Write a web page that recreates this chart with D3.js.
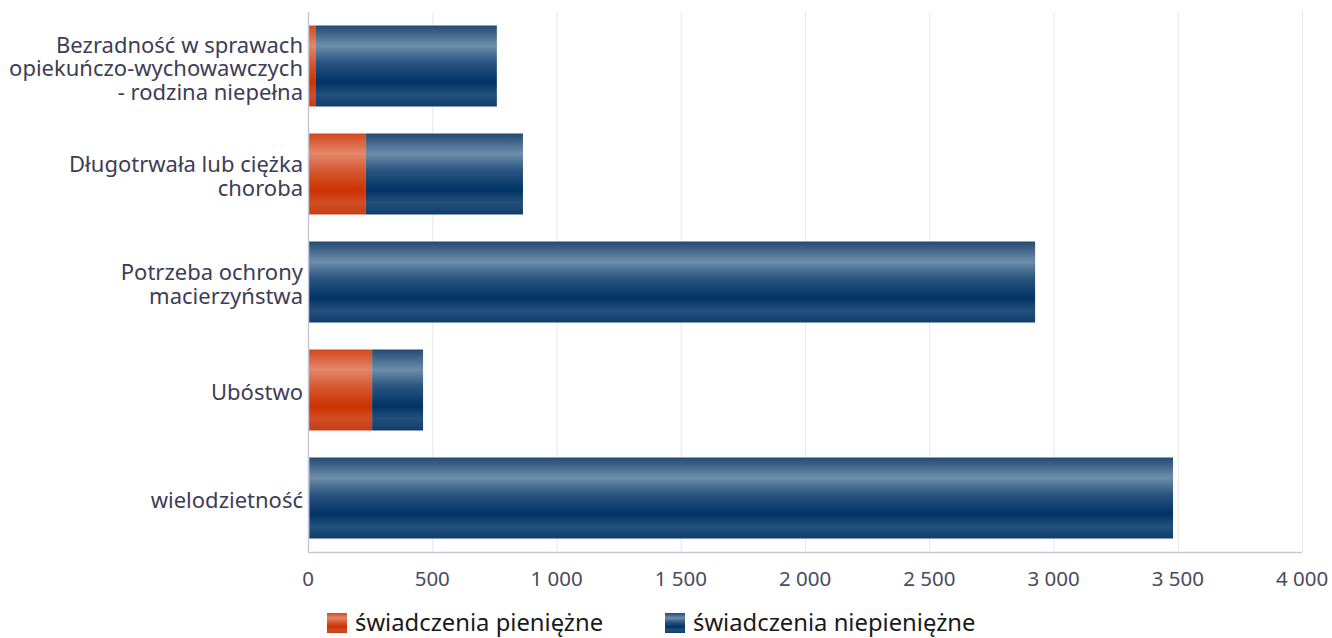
<!DOCTYPE html>
<html><head><meta charset="utf-8">
<script src="https://cdn.jsdelivr.net/npm/d3@7"></script>
<style>body{margin:0;background:#fff;}svg{display:block;font-family:"Noto Sans","Open Sans",sans-serif;}</style>
</head><body>
<svg id="c" width="1332" height="638"></svg>
<script>
const categories = [
  ["Bezradność w sprawach","opiekuńczo-wychowawczych","- rodzina niepełna"],
  ["Długotrwała lub ciężka","choroba"],
  ["Potrzeba ochrony","macierzyństwa"],
  ["Ubóstwo"],
  ["wielodzietność"]
];
const seriesNames = ["świadczenia pieniężne","świadczenia niepieniężne"];
const pieniezne = [32, 233, 0, 258, 5];
const niepieniezne = [728, 632, 2926, 205, 3476];
const xTicks = [0,500,1000,1500,2000,2500,3000,3500,4000];

const svg = d3.select("#c");
const m = {l:308, r:1302, t:12, b:552};
const x = d3.scaleLinear().domain([0,4000]).range([m.l, m.r]);
const y = d3.scaleBand().domain(d3.range(categories.length)).range([m.t, m.b]).paddingInner(0.25).paddingOuter(0.125);

const defs = svg.append("defs");
function grad(id, stops){
  const g = defs.append("linearGradient").attr("id",id).attr("x1",0).attr("y1",0).attr("x2",0).attr("y2",1);
  stops.forEach(s=>g.append("stop").attr("offset",s[0]).attr("stop-color",s[1]));
}
grad("gBlue",[[0,"#234a73"],[0.25,"#6e8eab"],[0.45,"#2c5580"],[0.7,"#003366"],[0.85,"#24507c"],[1,"#0f3d6b"]]);
grad("gOrange",[[0,"#d2481e"],[0.25,"#e2876a"],[0.45,"#d65a33"],[0.7,"#cc3300"],[0.85,"#d24c24"],[1,"#c53f15"]]);

svg.append("g").selectAll("line").data(xTicks.slice(1)).join("line")
  .attr("x1",d=>x(d)+0.5).attr("x2",d=>x(d)+0.5).attr("y1",m.t).attr("y2",m.b)
  .attr("stroke","#e6e6ec").attr("stroke-width",1);

const bars = svg.append("g");
categories.forEach((c,i)=>{
  const p = pieniezne[i], n = niepieniezne[i];
  if(p>0) bars.append("rect").attr("x",x(0)).attr("y",y(i)).attr("width",x(p)-x(0)).attr("height",y.bandwidth()).attr("fill","url(#gOrange)");
  bars.append("rect").attr("x",x(p)).attr("y",y(i)).attr("width",x(p+n)-x(p)).attr("height",y.bandwidth()).attr("fill","url(#gBlue)");
});

svg.append("line").attr("x1",m.l+0.5).attr("x2",m.l+0.5).attr("y1",m.t).attr("y2",m.b).attr("stroke","#c6c6da").attr("stroke-width",1.5);
svg.append("line").attr("x1",m.l).attr("x2",m.r).attr("y1",m.b+0.5).attr("y2",m.b+0.5).attr("stroke","#c6c6da").attr("stroke-width",1.5);

const fmt = d => d3.format(",")(d).replace(/,/g,"\u00a0");
svg.append("g").selectAll("text").data(xTicks).join("text")
  .attr("x",d=>x(d)).attr("y",586).attr("text-anchor","middle")
  .attr("font-size",20.5).attr("fill","#4a4a60").text(fmt);

categories.forEach((lines,i)=>{
  const cy = y(i)+y.bandwidth()/2;
  const lh = 23.5;
  const t = svg.append("text").attr("text-anchor","end").attr("font-size",22).attr("fill","#3d3d55");
  lines.forEach((l,j)=>{
    t.append("tspan").attr("x",303).attr("y",cy + (j-(lines.length-1)/2)*lh + 10).text(l);
  });
});

const leg = [{x:327, fill:"url(#gOrange)", name:seriesNames[0]},{x:665, fill:"url(#gBlue)", name:seriesNames[1]}];
leg.forEach(l=>{
  svg.append("rect").attr("x",l.x).attr("y",613).attr("width",20).attr("height",20).attr("fill",l.fill);
  svg.append("text").attr("x",l.x+28).attr("y",631).attr("font-size",23.8).attr("fill","#1a1a1a").text(l.name);
});
</script>
</body></html>
